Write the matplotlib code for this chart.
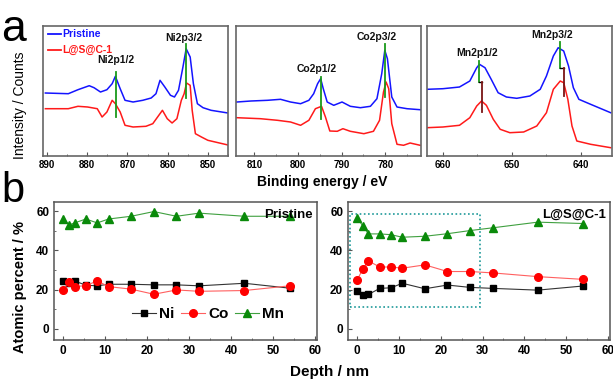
import matplotlib

matplotlib.use("Agg")

import matplotlib.pyplot as plt
from matplotlib.patches import Rectangle
from matplotlib.ticker import MultipleLocator

plt.rcParams["font.family"] = ["Liberation Sans", "DejaVu Sans"]

# ---- panel a: XPS spectra (arbitrary units) ----
ni_e_blue = [890.4, 884.7, 882.3, 879.5, 878.3, 876.7, 875.1, 873.8, 873.0, 871.8,
             870.6, 868.6, 866.2, 864.1, 862.9, 861.9, 860.7, 859.3, 858.3, 857.3,
             856.2, 855.4, 854.4, 853.6, 852.6, 851.2, 849.2, 845.0]
ni_i_blue = [63, 62.3, 66.3, 70.3, 68.3, 64, 66.3, 72.3, 79.7, 67.3,
             55.7, 54, 55.7, 58, 62.3, 75.7, 69, 60.7, 59, 65.7,
             89, 107.3, 99, 72.3, 52.3, 48.3, 45.7, 43]
ni_e_red = [890.4, 884.7, 882.3, 879.9, 877.5, 876.3, 875.1, 873.8, 873.0, 871.8,
            870.6, 868.6, 865.4, 863.7, 862.5, 861.3, 860.1, 858.9, 857.7, 856.6,
            855.9, 855.3, 854.4, 853.9, 853.1, 851.6, 850.0, 845.0]
ni_i_red = [47.3, 47.3, 49.7, 49, 47.3, 39, 44, 55.7, 52.3, 44,
            30.7, 29, 29.7, 32.3, 39, 45.7, 37.3, 33, 37.3, 55.7,
            62.3, 73, 70.7, 45.7, 22.3, 19, 15.7, 11]

co_e_blue = [814.0, 810.8, 807.0, 804.0, 801.7, 799.4, 797.5, 796.4, 795.5, 794.8,
             794.2, 793.3, 791.8, 789.9, 788.0, 785.7, 783.4, 781.9, 780.8, 780.1,
             779.5, 778.5, 777.3, 775.0, 772.0]
co_i_blue = [54, 55, 55.7, 56.7, 54, 52.3, 55.7, 62.3, 72.3, 77.3,
             67.3, 54, 50.7, 54, 49.7, 48.3, 49.7, 57.3, 82.3, 105.7,
             97.3, 59, 49, 47.3, 46.3]
co_e_red = [814.0, 808.6, 804.7, 801.7, 799.4, 797.5, 796.0, 794.6, 793.7, 792.7,
            791.0, 789.7, 788.0, 784.9, 782.7, 781.3, 780.4, 779.8, 779.2, 778.5,
            777.3, 775.8, 774.3, 772.0]
co_i_red = [38.3, 37.3, 35.7, 34, 30.7, 35.7, 47.3, 49.7, 39, 25,
            24.7, 27.3, 24.7, 22.3, 24.7, 35.7, 64, 74, 67.3, 32.3,
            11.7, 10.7, 13, 10.7]

mn_e_blue = [662.3, 660.0, 657.6, 656.1, 655.1, 654.7, 653.9, 653.0, 652.0, 650.8,
             649.3, 647.4, 645.9, 645.0, 644.0, 643.3, 642.5, 641.8, 641.1, 640.3,
             638.6, 635.7]
mn_i_blue = [66.7, 67.3, 69, 75, 88.3, 91.7, 88.3, 76.7, 63.3, 59,
             57.7, 60, 66.7, 80, 100, 108.3, 105, 90, 68.3, 56.7,
             51.7, 43.3]
mn_e_red = [662.3, 660.0, 657.6, 656.1, 655.1, 654.4, 653.7, 652.7, 651.7, 650.3,
            648.3, 646.4, 645.0, 644.0, 643.0, 642.5, 641.9, 641.3, 640.6, 638.6,
            635.7]
mn_i_red = [28.3, 29, 30.7, 38.3, 50, 55, 50.7, 36.7, 26.7, 23.3,
            24, 30, 43.3, 66.7, 75, 73.3, 56.7, 30, 15, 11.7, 8.3]

# peak markers: (energy, top, bottom)
ni_peaks = [(872.9, 84, 39), (855.5, 112.3, 58.3)]
co_peaks = [(794.8, 79, 37.3), (780.0, 112.3, 59)]
# Mn: green part on pristine, shifted dark-red part on L@S@C-1
mn_peaks_blue = [(654.8, 95, 74), (643.0, 114, 88.3)]
mn_peaks_red = [(654.3, 74, 44), (642.5, 88.3, 60)]

ni_labels = [("Ni2p1/2", 873.0, 95.7), ("Ni2p3/2", 856.0, 118)]
co_labels = [("Co2p1/2", 795.6, 87.3), ("Co2p3/2", 782.0, 119)]
mn_labels = [("Mn2p1/2", 655.1, 103), ("Mn2p3/2", 644.2, 120.7)]

# ---- panel b: depth profiles ----
depth = [0, 1.4, 2.7, 5.4, 8.1, 10.8, 16.2, 21.6, 27.0, 32.4, 43.2, 54.0]
pristine_ni = [24.4, 23.2, 24.4, 22.2, 21.9, 22.7, 22.7, 22.4, 22.4, 21.9, 23.2, 20.7]
pristine_co = [19.7, 23.9, 21.5, 22.0, 24.4, 21.5, 20.2, 17.6, 19.8, 19.1, 19.5, 21.9]
pristine_mn = [56.0, 53.0, 54.0, 56.0, 54.0, 56.0, 57.4, 59.8, 57.4, 59.0, 57.4, 57.4]
coated_ni = [19.2, 17.2, 17.5, 20.6, 20.9, 23.2, 20.4, 22.3, 21.1, 20.6, 19.7, 21.8]
coated_co = [24.9, 30.7, 34.6, 31.5, 31.5, 30.9, 32.6, 29.2, 29.2, 28.5, 26.6, 25.2]
coated_mn = [56.6, 52.3, 48.4, 48.4, 48.0, 46.7, 47.2, 48.5, 50.1, 51.5, 54.4, 53.7]
box_depth = [-1.8, 29.4]
box_percent = [11.0, 58.8]

BLUE = "#1414ff"
RED = "#ff1a1a"
GREEN = "#1a9a1a"
SPINE = "#555555"

fig = plt.figure(figsize=(6.13, 3.8), dpi=100)


def style_spines(ax, color, lw):
    for spine in ax.spines.values():
        spine.set_color(color)
        spine.set_linewidth(lw)


spectra = [
    ([0.0701, 0.5895, 0.3018, 0.342], (891, 845), ni_e_blue, ni_i_blue, ni_e_red, ni_i_red),
    ([0.3850, 0.5895, 0.3018, 0.342], (814.2, 771.8), co_e_blue, co_i_blue, co_e_red, co_i_red),
    ([0.6966, 0.5895, 0.3018, 0.342], (662.3, 635.5), mn_e_blue, mn_i_blue, mn_e_red, mn_i_red),
]

axes_a = []
for rect, xlim, eb, ib, er, ir in spectra:
    ax = fig.add_axes(rect)
    ax.plot(eb, ib, color=BLUE, lw=1.1)
    ax.plot(er, ir, color=RED, lw=1.1)
    ax.set_xlim(*xlim)
    ax.set_ylim(0, 130)
    ax.set_yticks([])
    ax.xaxis.set_major_locator(MultipleLocator(10))
    ax.xaxis.set_minor_locator(MultipleLocator(5))
    ax.tick_params(axis="x", which="both", direction="in", labelsize=7,
                   color=SPINE, pad=3)
    ax.tick_params(axis="x", which="major", length=3)
    ax.tick_params(axis="x", which="minor", length=1.5)
    for label in ax.get_xticklabels():
        label.set_fontweight("bold")
    style_spines(ax, "#666666", 1.2)
    axes_a.append(ax)

ax_ni, ax_co, ax_mn = axes_a

for ax, peaks in [(ax_ni, ni_peaks), (ax_co, co_peaks)]:
    for e, top, bottom in peaks:
        ax.plot([e, e], [bottom, top], color=GREEN, lw=1.3)

for (e1, t1, b1), (e2, t2, b2) in zip(mn_peaks_blue, mn_peaks_red):
    ax_mn.plot([e1, e1], [b1, t1], color=GREEN, lw=1.3)
    ax_mn.plot([e1, e2], [b1, t2], color="black", lw=1.0)
    ax_mn.plot([e2, e2], [b2, t2], color="#7a1515", lw=1.3)

for ax, labels in [(ax_ni, ni_labels), (ax_co, co_labels), (ax_mn, mn_labels)]:
    for text, e, y in labels:
        ax.text(e, y, text, ha="center", va="center", fontsize=7.5,
                fontweight="bold", color="#111111")

# spectrum legend written like the original (coloured line + coloured text)
ax_ni.plot([889.7, 886.6], [121.7, 121.7], color=BLUE, lw=1.3)
ax_ni.text(886.2, 121.7, "Pristine", color=BLUE, fontsize=7.5,
           fontweight="bold", va="center")
ax_ni.plot([889.7, 886.6], [106.3, 106.3], color=RED, lw=1.3)
ax_ni.text(886.2, 106.3, "L@S@C-1", color=RED, fontsize=7.5,
           fontweight="bold", va="center")

fig.text(0.525, 1 - 182 / 380, "Binding energy / eV", ha="center",
         va="center", fontsize=10, fontweight="bold")
fig.text(0.032, 1 - 105 / 380, "Intensity / Counts", ha="center",
         va="center", rotation=90, fontsize=10)
fig.text(0.002, 1 - 41 / 380, "a", fontsize=32, va="baseline")
fig.text(0.002, 1 - 202 / 380, "b", fontsize=30, va="baseline")

# ---- panel b axes ----
profiles = [
    ([0.0881, 0.105, 0.429, 0.363], pristine_ni, pristine_co, pristine_mn, "Pristine"),
    ([0.5677, 0.105, 0.4274, 0.363], coated_ni, coated_co, coated_mn, "L@S@C-1"),
]

axes_b = []
for rect, ni, co, mn, title in profiles:
    ax = fig.add_axes(rect)
    ax.plot(depth, ni, color="#333333", lw=0.8, marker="s", ms=4.5,
            mfc="black", mec="black", label="Ni")
    ax.plot(depth, co, color="#ff6060", lw=0.8, marker="o", ms=5.5,
            mfc="red", mec="red", label="Co")
    ax.plot(depth, mn, color="#40a040", lw=0.8, marker="^", ms=6,
            mfc="#0a8a0a", mec="#0a8a0a", label="Mn")
    ax.set_xlim(-2.2, 60.5)
    ax.set_ylim(-5.8, 64.6)
    ax.xaxis.set_major_locator(MultipleLocator(10))
    ax.xaxis.set_minor_locator(MultipleLocator(5))
    ax.yaxis.set_major_locator(MultipleLocator(20))
    ax.yaxis.set_minor_locator(MultipleLocator(10))
    ax.tick_params(which="both", direction="in", labelsize=8.5, color=SPINE)
    ax.tick_params(which="major", length=3)
    ax.tick_params(which="minor", length=1.5)
    for label in ax.get_xticklabels() + ax.get_yticklabels():
        label.set_fontweight("bold")
    ax.text(0.985, 0.95, title, transform=ax.transAxes, ha="right",
            va="top", fontsize=9.5, fontweight="bold")
    style_spines(ax, SPINE, 1.1)
    axes_b.append(ax)

ax_p, ax_c = axes_b

ax_p.legend(loc="center", bbox_to_anchor=(0.585, 0.19), ncol=3, frameon=False,
            prop={"weight": "bold", "size": 11},
            handlelength=1.6, handletextpad=0.2, columnspacing=0.4)

ax_c.add_patch(
    Rectangle(
        (box_depth[0], box_percent[0]),
        box_depth[1] - box_depth[0],
        box_percent[1] - box_percent[0],
        fill=False,
        edgecolor="#1f9a9a",
        linestyle=(0, (1, 1.5)),
        lw=1.2,
    )
)

fig.text(0.033, 1 - 287 / 380, "Atomic percent / %", ha="center",
         va="center", rotation=90, fontsize=10.5, fontweight="bold")
fig.text(0.538, 1 - 376 / 380, "Depth / nm", ha="center", va="baseline",
         fontsize=11, fontweight="bold")

plt.savefig("out.png", dpi=100)
plt.close()
